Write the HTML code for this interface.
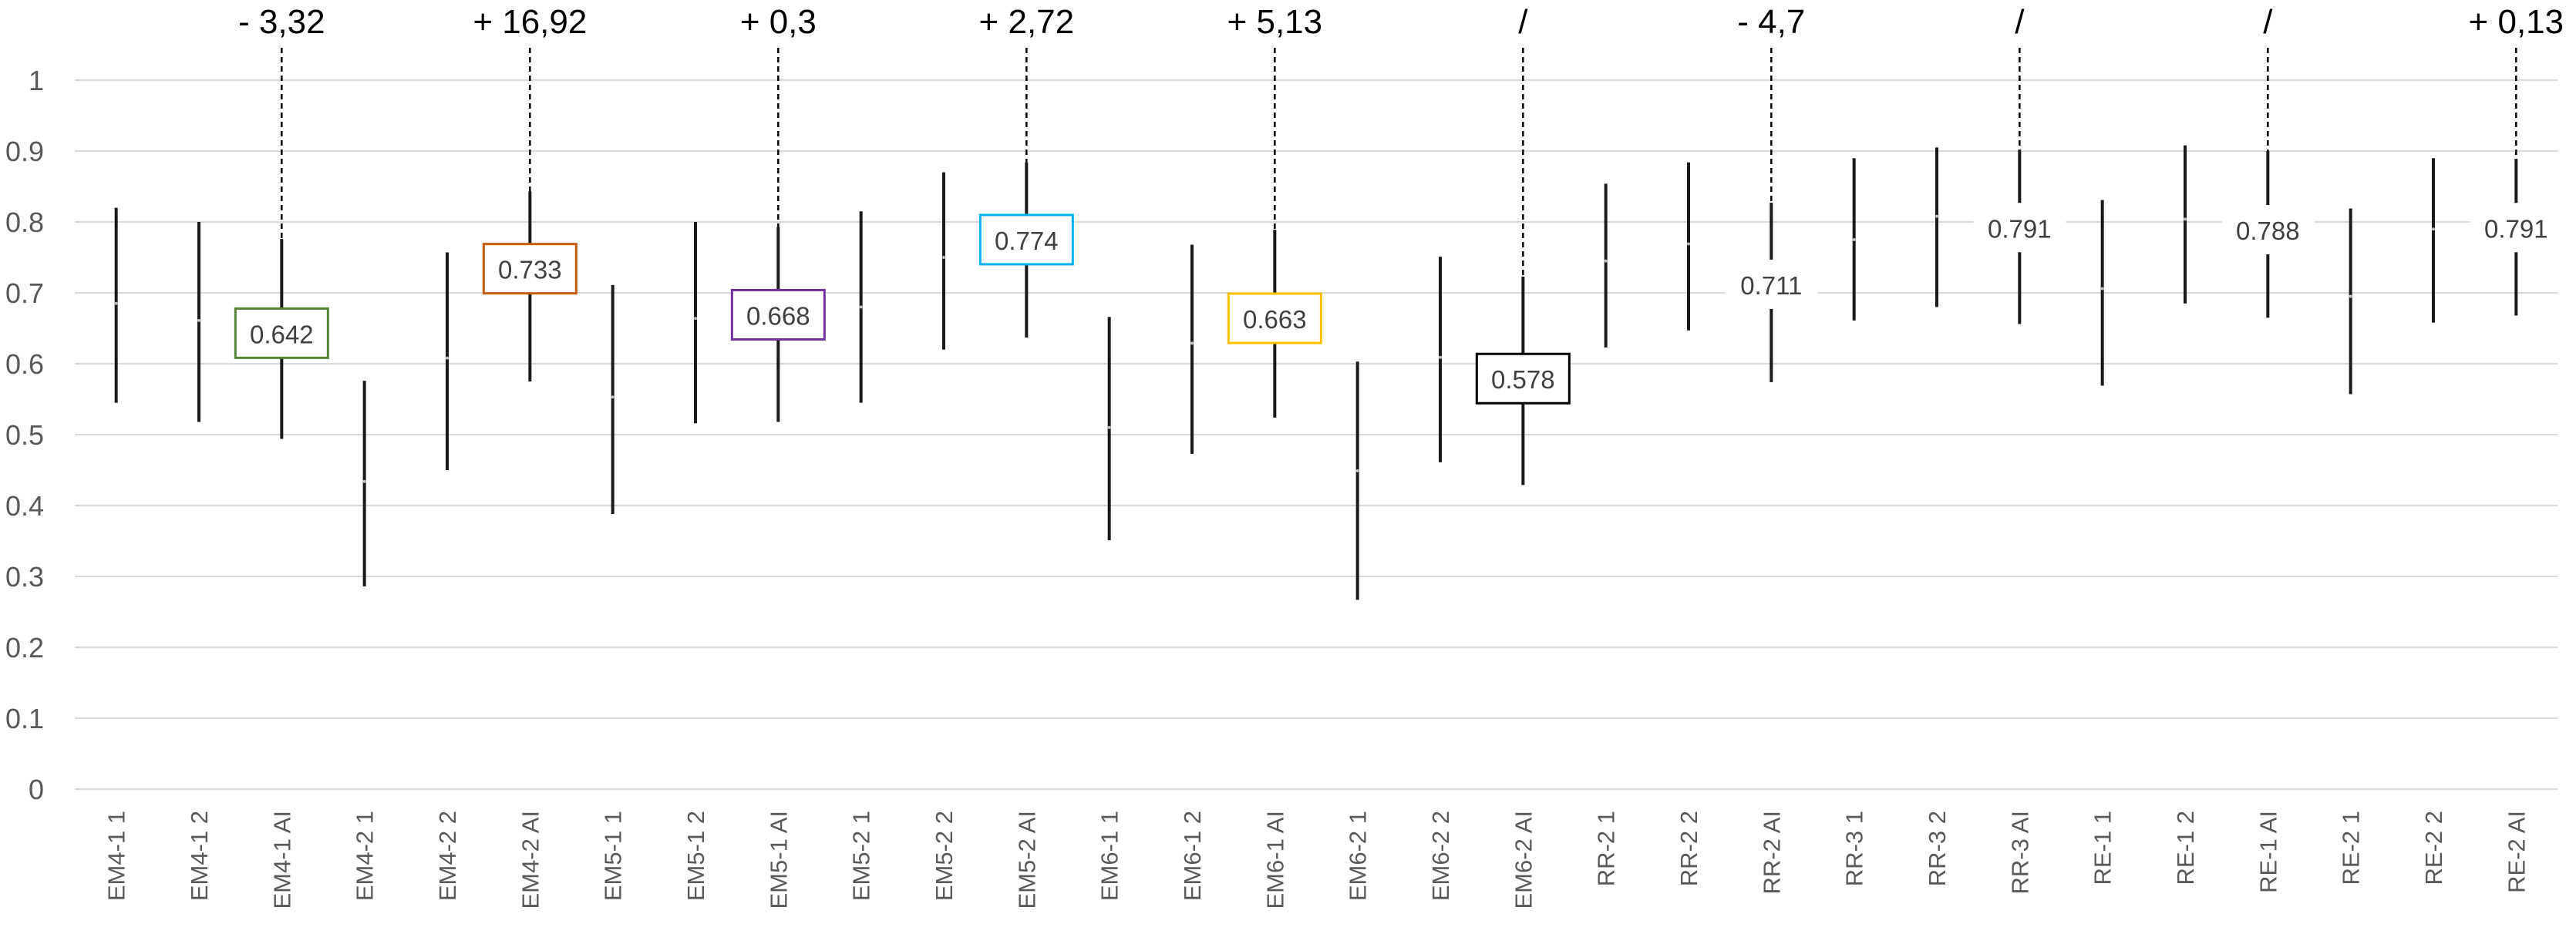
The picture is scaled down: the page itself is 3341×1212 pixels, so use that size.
<!DOCTYPE html>
<html><head><meta charset="utf-8"><style>
html,body{margin:0;padding:0;background:#fff;}
svg{display:block;font-family:"Liberation Sans",Arial,sans-serif;}
</style></head><body>
<svg id="chart" width="3341" height="1212" viewBox="0 0 3341 1212" xmlns="http://www.w3.org/2000/svg">
<g id="grid"></g>
<g id="yaxis"></g>
<g id="xaxis"></g>
<g id="marks"></g>
<g id="ann"></g>
</svg>
<script>
const categories = ["EM4-1 1","EM4-1 2","EM4-1 AI","EM4-2 1","EM4-2 2","EM4-2 AI","EM5-1 1","EM5-1 2","EM5-1 AI","EM5-2 1","EM5-2 2","EM5-2 AI","EM6-1 1","EM6-1 2","EM6-1 AI","EM6-2 1","EM6-2 2","EM6-2 AI","RR-2 1","RR-2 2","RR-2  AI","RR-3 1","RR-3 2","RR-3  AI","RE-1 1","RE-1 2","RE-1 AI","RE-2 1","RE-2 2","RE-2 AI"];
const highs = [0.82,0.80,0.776,0.576,0.757,0.843,0.711,0.80,0.793,0.815,0.87,0.884,0.666,0.768,0.789,0.603,0.751,0.723,0.854,0.884,0.827,0.89,0.905,0.902,0.831,0.908,0.90,0.819,0.89,0.889];
const lows = [0.545,0.518,0.494,0.286,0.45,0.575,0.388,0.516,0.518,0.545,0.62,0.637,0.351,0.473,0.524,0.267,0.461,0.429,0.623,0.647,0.574,0.661,0.68,0.656,0.569,0.685,0.665,0.557,0.658,0.668];
const mids = [0.685,0.661,0.642,0.434,0.608,0.733,0.553,0.664,0.668,0.68,0.75,0.774,0.51,0.629,0.663,0.449,0.609,0.578,0.745,0.769,0.711,0.775,0.808,0.791,0.706,0.804,0.788,0.695,0.79,0.791];
const aiIndex = [2,5,8,11,14,17,20,23,26,29];
const aiDeltas = ["- 3,32","+ 16,92","+ 0,3","+ 2,72","+ 5,13","/","- 4,7","/","/","+ 0,13"];
const aiBorders = ["#548235","#c55a11","#7030a0","#00b0f0","#ffc000","#000000",null,null,null,null];
const yTicks = [0,0.1,0.2,0.3,0.4,0.5,0.6,0.7,0.8,0.9,1];
const yTickLabels = ["0","0.1","0.2","0.3","0.4","0.5","0.6","0.7","0.8","0.9","1"];

const NS="http://www.w3.org/2000/svg";
const L=97,R=3317,Y0=1024,Y1=104;
const band=(R-L)/categories.length;
function xs(i){return L+band*(i+0.5);}
function ys(v){return Y0-(Y0-Y1)*v;}
function mk(tag,attrs,parent){const e=document.createElementNS(NS,tag);for(const k in attrs)e.setAttribute(k,attrs[k]);parent.appendChild(e);return e;}
const grid=document.getElementById('grid'),yax=document.getElementById('yaxis'),xax=document.getElementById('xaxis'),marks=document.getElementById('marks'),ann=document.getElementById('ann');

yTicks.forEach((t,i)=>{
  const ln=mk('line',{x1:L,x2:R,y1:ys(t),y2:ys(t),stroke:'#d9d9d9','stroke-width':2},grid);
  
  
  const tx=mk('text',{x:57,y:ys(t)+13,'text-anchor':'end','font-size':36,fill:'#595959'},yax);
  tx.textContent=yTickLabels[i];
  
  
});

categories.forEach((c,i)=>{
  const x=xs(i);
  const tx=mk('text',{transform:`translate(${x+11},1052) rotate(-90)`,'text-anchor':'end','font-size':31,fill:'#595959'},xax);
  tx.textContent=c;
  
  
  const bar=mk('line',{x1:x,x2:x,y1:ys(highs[i]),y2:ys(lows[i]),stroke:'#1a1a1a','stroke-width':4},marks);
  
  
  if(aiIndex.indexOf(i)<0){
    const d=mk('circle',{cx:x,cy:ys(mids[i]),r:2,fill:'#bfbfbf'},marks);
    
    
  }
});

aiIndex.forEach((i,k)=>{
  const x=xs(i);
  const dl=mk('line',{x1:x,x2:x,y1:62,y2:ys(highs[i]),stroke:'#000','stroke-width':2.5,'stroke-dasharray':'7,5'},ann);
  
  
  const dt=mk('text',{x:x,y:43,'text-anchor':'middle','font-size':44,fill:'#000'},ann);
  dt.textContent=aiDeltas[k];
  
  
  const cy=ys(mids[i]);
  const b=mk('rect',{x:x-60,y:cy-33,width:120,height:64,fill:'#fff',stroke:aiBorders[k]||'none','stroke-width':aiBorders[k]?3:0},ann);
  
  
  const vt=mk('text',{x:x,y:cy+12,'text-anchor':'middle','font-size':33,fill:'#404040'},ann);
  vt.textContent=mids[i].toFixed(3);
  
  
});
</script>
</body></html>
